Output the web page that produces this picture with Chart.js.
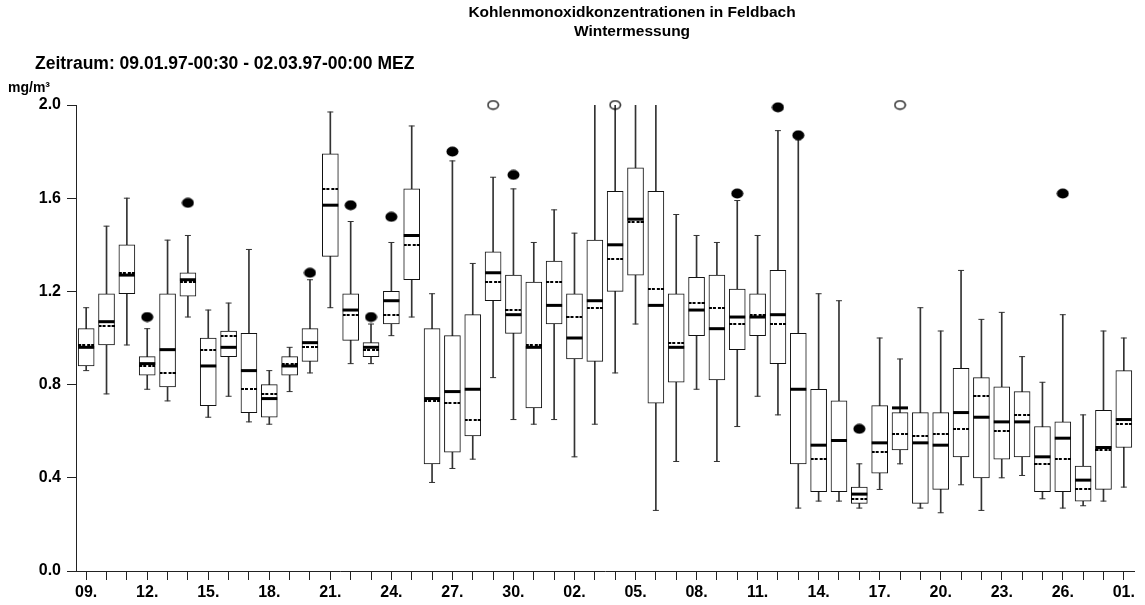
<!DOCTYPE html>
<html>
<head>
<meta charset="utf-8">
<script src="https://cdn.jsdelivr.net/npm/chart.js@4.4.1/dist/chart.umd.min.js"></script>
<style>
  html, body { margin: 0; padding: 0; background: #fff; }
  #wrap { width: 1145px; height: 605px; position: relative; }
</style>
</head>
<body>
<div id="wrap"><canvas id="co"></canvas></div>
<script>
const FONT = "'Liberation Sans', Arial, sans-serif";

const titleLines = ["Kohlenmonoxidkonzentrationen in Feldbach", "Wintermessung"];
const periodText = "Zeitraum: 09.01.97-00:30 - 02.03.97-00:00 MEZ";
const unitText = "mg/m³";

// one box per day, 09.01. - 01.03.
const days = [
  "09.", "10.", "11.", "12.", "13.", "14.", "15.", "16.", "17.", "18.",
  "19.", "20.", "21.", "22.", "23.", "24.", "25.", "26.", "27.", "28.",
  "29.", "30.", "31.", "01.", "02.", "03.", "04.", "05.", "06.", "07.",
  "08.", "09.", "10.", "11.", "12.", "13.", "14.", "15.", "16.", "17.",
  "18.", "19.", "20.", "21.", "22.", "23.", "24.", "25.", "26.", "27.",
  "28.", "01."
];
const yTicks = [0, 0.4, 0.8, 1.2, 1.6, 2.0];

const whiskerLow = [
  0.86, 0.76, 0.97, 0.78, 0.73, 1.09, 0.66, 0.75, 0.64, 0.63,
  0.77, 0.85, 1.13, 0.89, 0.89, 1.01, 1.09, 0.38, 0.44, 0.48,
  0.83, 0.65, 0.63, 0.65, 0.49, 0.63, 0.85, 1.06, 0.26, 0.47,
  0.78, 0.47, 0.62, 0.75, 0.67, 0.27, 0.30, 0.30, 0.27, 0.35,
  0.46, 0.27, 0.25, 0.37, 0.26, 0.40, 0.41, 0.31, 0.27, 0.28,
  0.30, 0.36
];
const q1 = [
  0.88, 0.97, 1.19, 0.84, 0.79, 1.18, 0.71, 0.92, 0.68, 0.66,
  0.84, 0.90, 1.35, 0.99, 0.92, 1.06, 1.25, 0.46, 0.51, 0.58,
  1.16, 1.02, 0.70, 1.06, 0.91, 0.90, 1.20, 1.27, 0.72, 0.81,
  1.01, 0.82, 0.95, 1.01, 0.89, 0.46, 0.34, 0.34, 0.29, 0.42,
  0.52, 0.29, 0.35, 0.49, 0.40, 0.48, 0.49, 0.34, 0.34, 0.30,
  0.35, 0.53
];
const median = [
  0.96, 1.07, 1.27, 0.89, 0.95, 1.25, 0.88, 0.96, 0.86, 0.74,
  0.88, 0.98, 1.57, 1.12, 0.96, 1.16, 1.44, 0.74, 0.77, 0.78,
  1.28, 1.10, 0.96, 1.14, 1.00, 1.16, 1.40, 1.51, 1.14, 0.96,
  1.12, 1.04, 1.09, 1.09, 1.10, 0.78, 0.54, 0.56, 0.33, 0.55,
  0.70, 0.55, 0.54, 0.68, 0.66, 0.64, 0.64, 0.49, 0.57, 0.39,
  0.53, 0.65
];
const mean = [
  0.97, 1.05, 1.28, 0.88, 0.85, 1.24, 0.95, 1.01, 0.78, 0.76,
  0.89, 0.96, 1.64, 1.10, 0.95, 1.10, 1.40, 0.73, 0.72, 0.65,
  1.24, 1.12, 0.97, 1.24, 1.09, 1.13, 1.34, 1.50, 1.21, 0.98,
  1.15, 1.13, 1.06, 1.10, 1.06, 0.78, 0.48, 0.56, 0.31, 0.51,
  0.59, 0.58, 0.59, 0.61, 0.75, 0.60, 0.67, 0.46, 0.48, 0.35,
  0.52, 0.63
];
const q3 = [
  1.04, 1.19, 1.40, 0.92, 1.19, 1.28, 1.00, 1.03, 1.02, 0.80,
  0.92, 1.04, 1.79, 1.19, 0.98, 1.20, 1.64, 1.04, 1.01, 1.10,
  1.37, 1.27, 1.24, 1.33, 1.19, 1.42, 1.63, 1.73, 1.63, 1.19,
  1.26, 1.27, 1.21, 1.19, 1.29, 1.02, 0.78, 0.73, 0.36, 0.71,
  0.68, 0.68, 0.68, 0.87, 0.83, 0.79, 0.77, 0.62, 0.64, 0.45,
  0.69, 0.86
];
const whiskerHigh = [
  1.13, 1.48, 1.60, 1.04, 1.42, 1.44, 1.12, 1.15, 1.38, 0.86,
  0.96, 1.25, 1.97, 1.50, 1.06, 1.41, 1.91, 1.19, 1.76, 1.32,
  1.69, 1.64, 1.41, 1.55, 1.45, 2.00, 2.00, 2.00, 2.00, 1.53,
  1.44, 1.41, 1.59, 1.44, 1.89, 1.85, 1.19, 1.16, 0.46, 1.00,
  0.91, 1.13, 1.03, 1.29, 1.08, 1.11, 0.92, 0.81, 1.10, 0.67,
  1.03, 1.00
];

// single outliers (filled) and values beyond the axis (open, drawn at the top)
const outlierDays = [3, 5, 11, 13, 14, 15, 18, 21, 32, 34, 35, 38, 48];
const outlierValues = [1.09, 1.58, 1.28, 1.57, 1.09, 1.52, 1.80, 1.70, 1.62, 1.99, 1.87, 0.61, 1.62];
const extremeDays = [20, 26, 40];
const extremeValues = [2.0, 2.0, 2.0];

const yMax = 2.0;

function spread(idx, vals) {
  const out = days.map(() => null);
  idx.forEach((d, k) => { out[d] = vals[k]; });
  return out;
}

// little canvases used as point styles
function dashMark() {
  const c = document.createElement('canvas');
  c.width = 16; c.height = 2;
  const g = c.getContext('2d');
  g.fillStyle = '#000';
  [0, 4, 9, 13].forEach(x => g.fillRect(x, 0, 3, 2));
  return c;
}
function dotMark(filled) {
  const c = document.createElement('canvas');
  c.width = 13; c.height = 11;
  const g = c.getContext('2d');
  g.beginPath();
  if (filled) {
    g.ellipse(6.5, 5.5, 6, 5, 0, 0, Math.PI * 2);
    g.fillStyle = '#000';
    g.fill();
  } else {
    g.ellipse(6.5, 5.5, 5.2, 4.2, 0, 0, Math.PI * 2);
    g.strokeStyle = '#000';
    g.lineWidth = 1.3;
    g.stroke();
  }
  return c;
}

const headerText = {
  id: 'headerText',
  afterDraw(chart) {
    const ctx = chart.ctx;
    ctx.save();
    ctx.fillStyle = '#000';
    ctx.textBaseline = 'middle';
    ctx.textAlign = 'center';
    ctx.font = 'bold 15.5px ' + FONT;
    ctx.fillText(titleLines[0], 632, 13);
    ctx.fillText(titleLines[1], 632, 32);
    ctx.textAlign = 'left';
    ctx.font = 'bold 17.5px ' + FONT;
    ctx.fillText(periodText, 35, 64);
    ctx.font = 'bold 14px ' + FONT;
    ctx.fillText(unitText, 8, 88);
    ctx.restore();
  }
};

const pointSet = (data, extra) => Object.assign({
  type: 'line',
  data: data,
  showLine: false,
  clip: false,
  pointBorderColor: '#000',
  pointBackgroundColor: '#000',
  pointHoverRadius: extra.pointRadius
}, extra);

const tickFont = { family: FONT, size: 16, weight: 'bold' };

new Chart(document.getElementById('co'), {
  type: 'bar',
  data: {
    labels: days,
    datasets: [
      {
        label: 'Whisker',
        data: days.map((_, i) => [whiskerLow[i], whiskerHigh[i]]),
        backgroundColor: '#333',
        barThickness: 1,
        grouped: false,
        order: 6
      },
      {
        label: 'Box',
        data: days.map((_, i) => [q1[i], q3[i]]),
        backgroundColor: '#fff',
        borderColor: '#111',
        borderWidth: 1,
        borderSkipped: false,
        barThickness: 16,
        grouped: false,
        order: 5
      },
      pointSet(whiskerLow, { pointStyle: 'line', pointRadius: 3, pointBorderWidth: 1, pointBorderColor: '#333', order: 4 }),
      pointSet(whiskerHigh.map(v => v < yMax ? v : null), { pointStyle: 'line', pointRadius: 3, pointBorderWidth: 1, pointBorderColor: '#333', order: 4 }),
      pointSet(median, { pointStyle: 'line', pointRadius: 8, pointBorderWidth: 3, order: 2 }),
      pointSet(mean, { pointStyle: dashMark(), pointRadius: 8, order: 1 }),
      pointSet(spread(outlierDays, outlierValues), { pointStyle: dotMark(true), pointRadius: 6, order: 0 }),
      pointSet(spread(extremeDays, extremeValues), { pointStyle: dotMark(false), pointRadius: 6, order: 0 })
    ]
  },
  options: {
    responsive: true,
    maintainAspectRatio: false,
    animation: false,
    events: [],
    layout: { padding: { top: 105, right: 1, left: 0, bottom: 0 } },
    plugins: {
      legend: { display: false },
      tooltip: { enabled: false },
      title: { display: false }
    },
    scales: {
      x: {
        offset: true,
        ticks: {
          autoSkip: false,
          maxRotation: 0,
          minRotation: 0,
          color: '#000',
          font: tickFont,
          padding: 3,
          callback: (v, i) => (i % 3 === 0 ? days[i] : '')
        },
        grid: { offset: false, drawOnChartArea: false, tickLength: 9, color: '#222' },
        border: { color: '#222', width: 1 },
        afterFit(s) { s.height = 34; s.paddingLeft = 0; s.paddingRight = 0; }
      },
      y: {
        min: 0,
        max: yMax,
        afterBuildTicks(s) { s.ticks = yTicks.map(v => ({ value: v })); },
        ticks: {
          color: '#000',
          font: tickFont,
          padding: 6,
          callback: v => v.toFixed(1)
        },
        grid: { drawOnChartArea: false, tickLength: 9, color: '#222' },
        border: { color: '#222', width: 1 },
        afterFit(s) { s.width = 76; s.paddingTop = 0; s.paddingBottom = 0; }
      }
    }
  },
  plugins: [headerText]
});
</script>
</body>
</html>
